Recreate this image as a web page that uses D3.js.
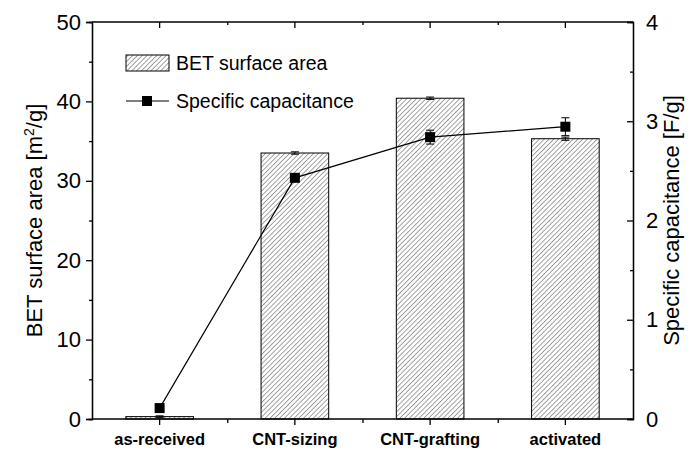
<!DOCTYPE html>
<html><head><meta charset="utf-8">
<script src="https://cdn.jsdelivr.net/npm/d3@7"></script>
<style>body{margin:0;background:#fff}svg{display:block}text{font-family:"Liberation Sans",Arial,sans-serif}</style>
</head><body>
<svg id="c" width="697" height="450"></svg>
<script>
const categories = ["as-received","CNT-sizing","CNT-grafting","activated"];
const betValues = [0.3, 33.5, 40.4, 35.3];
const betErrors = [0.1, 0.15, 0.15, 0.2];
const capValues = [0.11, 2.43, 2.84, 2.945];
const capErrors = [0.0, 0.03, 0.07, 0.09];
const leftTicks = [0,10,20,30,40,50];
const rightTicks = [0,1,2,3,4];

const svg = d3.select("#c");
const L=92, R=633, T=22, B=419;
const FONT = "Liberation Sans, Arial, sans-serif";
const x = d3.scaleBand().domain(categories).range([L,R]).paddingInner(0.5).paddingOuter(0.25);
const yL = d3.scaleLinear().domain([0,50]).range([B,T]);
const yR = d3.scaleLinear().domain([0,4]).range([B,T]);

const defs = svg.append("defs");
const P = 3.4;
const pat = defs.append("pattern").attr("id","hatch").attr("patternUnits","userSpaceOnUse")
  .attr("width",P).attr("height",P).attr("patternTransform","rotate(45)");
pat.append("rect").attr("width",P).attr("height",P).attr("fill","#fff");
pat.append("line").attr("x1",0).attr("y1",0).attr("x2",0).attr("y2",P).attr("stroke","#333").attr("stroke-width",0.9);

// bars
svg.append("g").selectAll("rect").data(categories).join("rect")
  .attr("x",d=>x(d)).attr("width",x.bandwidth())
  .attr("y",(d,i)=>yL(betValues[i])).attr("height",(d,i)=>B-yL(betValues[i]))
  .attr("fill","url(#hatch)").attr("stroke","#000").attr("stroke-width",1);
// bar error bars
svg.append("g").selectAll("g").data(categories).join("g").each(function(d,i){
  const g=d3.select(this), cx=x(d)+x.bandwidth()/2;
  const y1=yL(betValues[i]+betErrors[i]), y2=yL(betValues[i]-betErrors[i]);
  g.append("line").attr("x1",cx).attr("x2",cx).attr("y1",y1).attr("y2",y2).attr("stroke","#000");
  g.append("line").attr("x1",cx-4).attr("x2",cx+4).attr("y1",y1).attr("y2",y1).attr("stroke","#000");
  g.append("line").attr("x1",cx-4).attr("x2",cx+4).attr("y1",y2).attr("y2",y2).attr("stroke","#000");
});

// axes
const axL = svg.append("g").attr("transform",`translate(${L},0)`)
  .call(d3.axisLeft(yL).tickValues(leftTicks).tickSize(6).tickPadding(5).tickFormat(d3.format("d")));
const axLm = svg.append("g").attr("transform",`translate(${L},0)`)
  .call(d3.axisLeft(yL).tickValues([5,15,25,35,45]).tickSize(3).tickFormat(""));
const axR = svg.append("g").attr("transform",`translate(${R},0)`)
  .call(d3.axisRight(yR).tickValues(rightTicks).tickSize(-6).tickPadding(13).tickFormat(d3.format("d")));
const axRm = svg.append("g").attr("transform",`translate(${R},0)`)
  .call(d3.axisRight(yR).tickValues([0.5,1.5,2.5,3.5]).tickSize(-3).tickFormat(""));
const axB = svg.append("g").attr("transform",`translate(0,${B})`)
  .call(d3.axisBottom(x).tickSize(6).tickPadding(8));
const midTicks = categories.slice(0,-1).map((d,i)=>(x(d)+x(categories[i+1]))/2 + x.bandwidth()/2);
const xm = d3.scaleLinear().domain([L,R]).range([L,R]);
const axBm = svg.append("g").attr("transform",`translate(0,${B})`)
  .call(d3.axisBottom(xm).tickValues(midTicks).tickSize(4).tickFormat(""));
const axT = svg.append("g").attr("transform",`translate(0,${T})`)
  .call(d3.axisTop(x).tickSize(-6).tickFormat(""));
const axTm = svg.append("g").attr("transform",`translate(0,${T})`)
  .call(d3.axisTop(xm).tickValues(midTicks).tickSize(-3).tickFormat(""));
[axL,axLm,axR,axRm,axB,axBm,axT,axTm].forEach(a=>{
  a.selectAll(".domain").attr("stroke","#000").attr("stroke-width",1.3);
  a.selectAll(".tick line").attr("stroke","#000").attr("stroke-width",1.3);
});
axB.selectAll(".domain").attr("d",`M${L},0H${R}`);
axT.selectAll(".domain").attr("d",`M${L},0H${R}`);
axBm.selectAll(".domain").remove(); axTm.selectAll(".domain").remove();
axL.selectAll("text").attr("font-size",22).attr("fill","#000").attr("font-family",FONT);
axR.selectAll("text").attr("font-size",22).attr("fill","#000").attr("font-family",FONT);
axB.selectAll("text").attr("font-size",16.5).attr("font-weight","bold").attr("fill","#000").attr("font-family",FONT);

// line series
const line = d3.line().x((d,i)=>x(categories[i])+x.bandwidth()/2).y(d=>yR(d));
svg.append("path").datum(capValues).attr("d",line).attr("fill","none").attr("stroke","#000").attr("stroke-width",1.2);
svg.append("g").selectAll("g").data(categories).join("g").each(function(d,i){
  const g=d3.select(this), cx=x(d)+x.bandwidth()/2;
  if(capErrors[i]>0){
    const y1=yR(capValues[i]+capErrors[i]), y2=yR(capValues[i]-capErrors[i]);
    g.append("line").attr("x1",cx).attr("x2",cx).attr("y1",y1).attr("y2",y2).attr("stroke","#000");
    g.append("line").attr("x1",cx-4).attr("x2",cx+4).attr("y1",y1).attr("y2",y1).attr("stroke","#000");
    g.append("line").attr("x1",cx-4).attr("x2",cx+4).attr("y1",y2).attr("y2",y2).attr("stroke","#000");
  }
  g.append("rect").attr("x",cx-5).attr("y",yR(capValues[i])-5).attr("width",10).attr("height",10).attr("fill","#000");
});

// legend
const lg = svg.append("g");
lg.append("rect").attr("x",126).attr("y",55).attr("width",43).attr("height",16).attr("fill","url(#hatch)").attr("stroke","#000");
lg.append("text").attr("x",176).attr("y",70).attr("font-size",19.5).text("BET surface area");
lg.append("line").attr("x1",126).attr("x2",169).attr("y1",101).attr("y2",101).attr("stroke","#000").attr("stroke-width",1.2);
lg.append("rect").attr("x",142).attr("y",96).attr("width",10).attr("height",10).attr("fill","#000");
lg.append("text").attr("x",176).attr("y",108).attr("font-size",19.5).text("Specific capacitance");

// axis titles
const tl = svg.append("text").attr("transform",`translate(42,${(T+B)/2}) rotate(-90)`).attr("text-anchor","middle").attr("font-size",22);
tl.append("tspan").text("BET surface area [m");
tl.append("tspan").attr("baseline-shift","super").attr("font-size",14).text("2");
tl.append("tspan").text("/g]");
svg.append("text").attr("transform",`translate(679,${(T+B)/2}) rotate(-90)`).attr("text-anchor","middle").attr("font-size",22).text("Specific capacitance [F/g]");
</script>
</body></html>
